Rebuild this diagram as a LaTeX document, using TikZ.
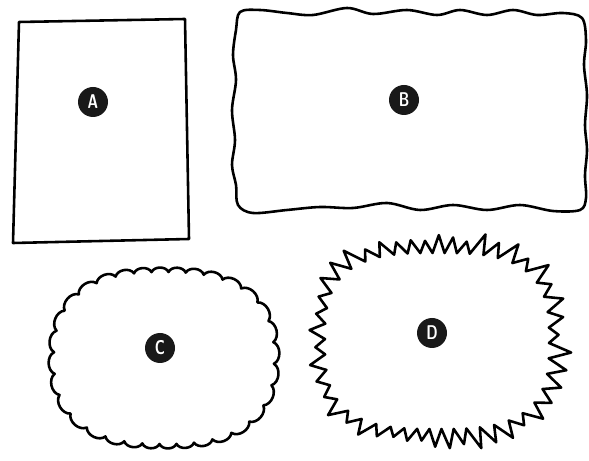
\documentclass[tikz,border=0pt]{standalone}
\usepackage{tikz}

\tikzset{
  outline/.style={line width=2.2pt, line join=round},
  badge/.style={circle, fill=black!90, text=white, minimum size=0.9cm, inner sep=0pt,
    font=\fontsize{17}{17}\sffamily\bfseries},
}

\begin{document}
\begin{tikzpicture}[x=0.03cm,y=-0.03cm]
\useasboundingbox (0,0) rectangle (589,461);
% A: plain sheet
\draw[outline] (19,22) -- (185,19) -- (189,239) -- (13,243) -- cycle;
\node[badge] (a) at (93,102) {\scalebox{0.72}[1]{A}};
% B: wavy box
\draw[outline] plot[smooth cycle, tension=0.55] coordinates {
  (240,12) (260,10) (287,13) (313,15) (347,8) (373,14) (407,10) (437,15)
  (460,10) (487,15) (513,10) (537,15) (563,13) (582,18)
  (586,40) (584,65) (587,95) (585,125) (587,150) (585,175) (586,198)
  (580,210) (553,211) (520,205) (487,210) (453,205) (420,210) (387,203)
  (353,208) (320,207) (287,210) (253,213) (238,205)
  (236,185) (232,165) (235,140) (232,110) (236,80) (233,55) (236,30)};
\node[badge] (b) at (404,100) {\scalebox{0.72}[1]{B}};
% C: cloud, bumps on a squarish ellipse
\foreach \i in {0,...,31}{
  \pgfmathsetmacro\t{\i*11.25+3}
  \pgfmathsetmacro\u{abs(cos(\t))}
  \pgfmathsetmacro\v{abs(sin(\t))*110/86}
  \pgfmathsetmacro\r{110/((\u^2.5+\v^2.5)^(0.4))}
  \coordinate (c\i) at ([shift={(164,358)}]\t:\r);
}
\draw[outline] (c0) \foreach \i in {1,...,31}{ to[bend left=65] (c\i) } to[bend left=65] cycle;
\node[badge] (cl) at (160,348) {\scalebox{0.72}[1]{C}};
% D: starburst
\pgfmathsetseed{11}
\foreach \i in {0,...,91}{
  \pgfmathsetmacro\t{\i*3.913+1}
  \pgfmathsetmacro\u{abs(cos(\t))}
  \pgfmathsetmacro\v{abs(sin(\t))*112/88}
  \pgfmathsetmacro\r{112/((\u^3+\v^3)^(1/3)) + mod(\i,2)*(9+14*rnd)}
  \coordinate (d\i) at ([shift={(437,341)}]\t:\r);
}
\draw[outline] (d0) \foreach \i in {1,...,91}{ -- (d\i) } -- cycle;
\node[badge] (dl) at (432,333) {\scalebox{0.72}[1]{D}};
\end{tikzpicture}
\end{document}
